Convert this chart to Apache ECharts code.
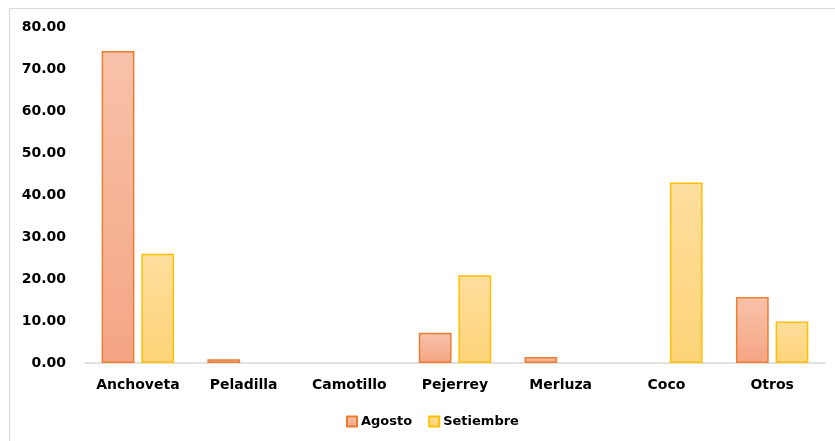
<!DOCTYPE html>
<html>
<head>
<meta charset="utf-8">
<script src="https://cdn.jsdelivr.net/npm/echarts@6/dist/echarts.min.js"></script>
<style>
  html, body { margin: 0; padding: 0; background: #fff; }
  #chart { width: 835px; height: 441px; }
</style>
</head>
<body>
<div id="chart"></div>
<script>
// Especies y volúmenes por mes
const categories = ['Anchoveta', 'Peladilla', 'Camotillo', 'Pejerrey', 'Merluza', 'Coco', 'Otros'];
const agosto = [74.3, 0.9, 0, 7.2, 1.4, 0, 15.7];
const setiembre = [26.0, 0, 0, 20.9, 0, 43.0, 9.9];

const chart = echarts.init(document.getElementById('chart'), null, { renderer: 'canvas' });

const fontFamily = '"DejaVu Sans", Verdana, sans-serif';

function grad(top, bottom) {
  return new echarts.graphic.LinearGradient(0, 0, 0, 1, [
    { offset: 0, color: top },
    { offset: 1, color: bottom }
  ]);
}

// zero values get no outline so nothing is drawn on the axis
function toBars(values) {
  return values.map(v => v === 0 ? { value: 0, itemStyle: { borderWidth: 0, opacity: 0 } } : v);
}

chart.setOption({
  animation: false,
  backgroundColor: '#ffffff',
  graphic: [{
    type: 'rect',
    silent: true,
    shape: { x: 9.5, y: 8.5, width: 840, height: 450 },
    style: { fill: 'none', stroke: '#d9d9d9', lineWidth: 1 },
    z: -1
  }],
  grid: { left: 85, right: 10, top: 27, bottom: 78 },
  legend: {
    bottom: 8,
    left: 341,
    icon: 'rect',
    itemWidth: 10,
    itemHeight: 10,
    itemGap: 16,
    textStyle: { fontFamily: fontFamily, fontWeight: 'bold', fontSize: 13, color: '#000', padding: [0, 0, 0, -1] },
    data: ['Agosto', 'Setiembre']
  },
  xAxis: {
    type: 'category',
    data: categories,
    axisLine: { lineStyle: { color: '#d9d9d9', width: 1.5 } },
    axisTick: { show: false },
    axisLabel: { interval: 0, fontFamily: fontFamily, fontWeight: 'bold', fontSize: 14, color: '#000', margin: 15 }
  },
  yAxis: {
    type: 'value',
    min: 0,
    max: 80,
    interval: 10,
    axisLine: { show: false },
    axisTick: { show: false },
    splitLine: { show: false },
    axisLabel: {
      fontFamily: fontFamily, fontWeight: 'bold', fontSize: 14, color: '#000', margin: 19,
      formatter: v => v.toFixed(2)
    }
  },
  series: [
    {
      name: 'Agosto',
      type: 'bar',
      data: toBars(agosto),
      barWidth: '31%',
      barGap: '21%',
      itemStyle: {
        color: grad('#f8c2aa', '#f4a583'),
        borderColor: '#ed7d31',
        borderWidth: 1.5
      }
    },
    {
      name: 'Setiembre',
      type: 'bar',
      data: toBars(setiembre),
      barWidth: '31%',
      itemStyle: {
        color: grad('#fede9e', '#fed478'),
        borderColor: '#ffc000',
        borderWidth: 1.5
      }
    }
  ]
});
</script>
</body>
</html>
